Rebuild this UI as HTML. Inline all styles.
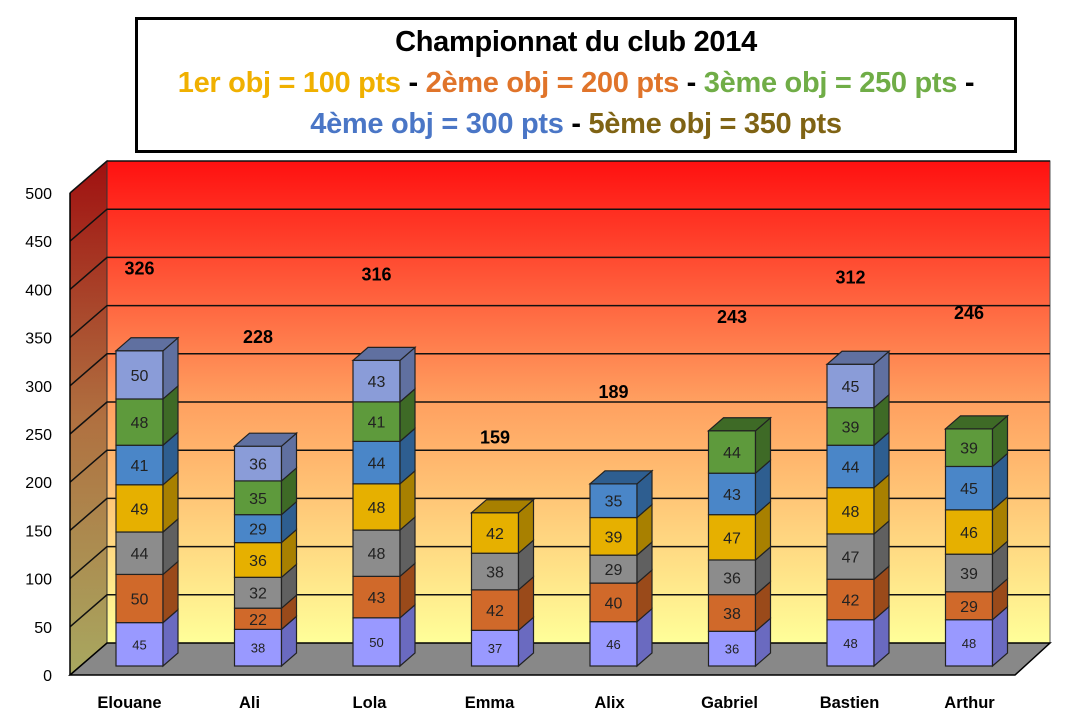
<!DOCTYPE html>
<html><head><meta charset="utf-8"><style>
body{margin:0;background:#fff;font-family:"Liberation Sans",Calibri,sans-serif}
#title{position:absolute;left:135px;top:17px;width:876px;height:128px;border:3px solid #000;background:#fff;text-align:center;font-weight:bold;font-size:29px;line-height:41px;padding-top:2px;letter-spacing:-0.3px}
</style></head><body>
<div id="title">
<div>Championnat du club 2014</div>
<div><span style="color:#f0b000">1er obj = 100 pts</span> - <span style="color:#e0742a">2ème obj = 200 pts</span> - <span style="color:#70ad47">3ème obj = 250 pts</span> -</div>
<div><span style="color:#4a76c6">4ème obj = 300 pts</span> - <span style="color:#7f6314">5ème obj = 350 pts</span></div>
</div>
<svg id="chart" width="1068" height="724" style="position:absolute;left:0;top:0;z-index:-1">
<defs>
<linearGradient id="bg" x1="0" y1="0" x2="0" y2="1"><stop offset="0" stop-color="#ff1010"/><stop offset="0.5" stop-color="#ffa060"/><stop offset="1" stop-color="#ffff99"/></linearGradient>
<linearGradient id="lw" x1="0" y1="0" x2="0" y2="1"><stop offset="0" stop-color="#a01010"/><stop offset="0.5" stop-color="#b07040"/><stop offset="1" stop-color="#a8a860"/></linearGradient>
</defs>
</svg>
<script>
const categories=["Elouane","Ali","Lola","Emma","Alix","Gabriel","Bastien","Arthur"];
const s1=[45,38,50,37,46,36,48,48];
const s2=[50,22,43,42,40,38,42,29];
const s3=[44,32,48,38,29,36,47,39];
const s4=[49,36,48,42,39,47,48,46];
const s5=[41,29,44,0,35,43,44,45];
const s6=[48,35,41,0,0,44,39,39];
const s7=[50,36,43,0,0,0,45,0];
const totals=[326,228,316,159,189,243,312,246];
const labelAt=[406,335,400,231,278,356,397,360];
const ticks=[0,50,100,150,200,250,300,350,400,450,500];
const series=[s1,s2,s3,s4,s5,s6,s7];
const colors=[["#9999ff","#6a6ac0"],["#d0692a","#9a4a1a"],["#8c8c8c","#606060"],["#e6b000","#a88000"],["#4a86c8","#2e5e90"],["#5e9a3c","#3e6a26"],["#8a9cd8","#6070a0"]];
const NS="http://www.w3.org/2000/svg",svg=document.getElementById('chart');
const S=482/500;
const yF=v=>675-v*S;
const yB=v=>643-v*S;
const yBar=v=>666-v*S;
const xC=i=>139.5+i*118.5;
function mk(t,a,p){const e=document.createElementNS(NS,t);for(const k in a)e.setAttribute(k,a[k]);(p||svg).appendChild(e);return e;}
let e;
e=mk('rect',{x:107,y:yB(500),width:943,height:yB(0)-yB(500),fill:"url(#bg)",stroke:"#555","stroke-width":1});


e=mk('polygon',{points:`70,${yF(500)} 107,${yB(500)} 107,${yB(0)} 70,${yF(0)}`,fill:"url(#lw)",stroke:"#333"});


e=mk('polygon',{points:`70,675 107,643 1050,643 1015,675`,fill:"#888",stroke:"#000","stroke-width":1.5});


ticks.forEach(t=>{
 if(t>0){e=mk('polyline',{points:`70,${yF(t)} 107,${yB(t)} 1050,${yB(t)}`,fill:"none",stroke:"#111","stroke-width":1.5});
 
 }
 e=mk('text',{x:52,y:yF(t)+6,"text-anchor":"end","font-size":16,fill:"#000"});e.textContent=t;
 
 
});
mk('line',{x1:70,y1:yF(500),x2:70,y2:675,stroke:"#000","stroke-width":1.5});
const W=47,DX=15,DY=13;
categories.forEach((c,i)=>{
 const x=xC(i)-W/2;let cum=0;
 const g=mk('g',{});
 
 
 series.forEach((s,k)=>{
  const v=s[i];if(!v)return;
  const y0=yBar(cum),y1=yBar(cum+v);cum+=v;
  const [f,d]=colors[k];
  e=mk('rect',{x:x,y:y1,width:W,height:y0-y1,fill:f,stroke:"#222","stroke-width":1.2},g);
  
  
  mk('polygon',{points:`${x+W},${y0} ${x+W+DX},${y0-DY} ${x+W+DX},${y1-DY} ${x+W},${y1}`,fill:d,stroke:"#222","stroke-width":1.2},g);
  e=mk('text',{x:xC(i),y:(y0+y1)/2+(k==0?5:6),"text-anchor":"middle","font-size":k==0?13:16,fill:"#222"},g);e.textContent=v;
  
  
 });
 const top=yBar(cum);let last=0;series.forEach((s,k)=>{if(s[i])last=k;});
 mk('polygon',{points:`${x},${top} ${x+DX},${top-DY} ${x+W+DX},${top-DY} ${x+W},${top}`,fill:colors[last][1],stroke:"#222","stroke-width":1.2},g);
 e=mk('text',{x:xC(i),y:yBar(labelAt[i]),"text-anchor":"middle","font-size":18,"font-weight":"bold",fill:"#000"});e.textContent=totals[i];
 
 
 e=mk('text',{x:xC(i)-10+i*1.5,y:708,"text-anchor":"middle","font-size":16.5,"font-weight":"bold",fill:"#000"});e.textContent=c;
 
 
});
</script>
</body></html>
